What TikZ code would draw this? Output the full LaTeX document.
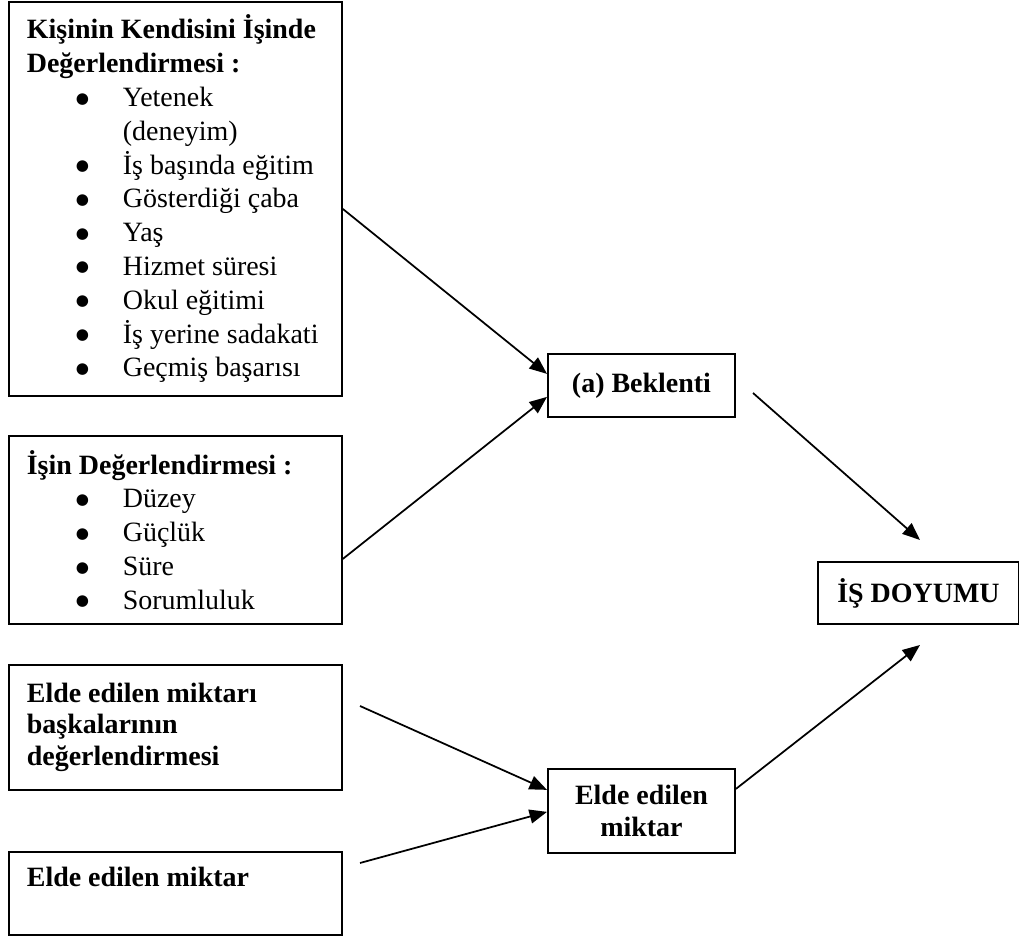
\documentclass[tikz,border=0pt]{standalone}
\usepackage{fontspec}
\setmainfont{Liberation Serif}
\newfontfamily\simge{DejaVu Sans}
\usetikzlibrary{arrows.meta,calc}

\newcommand{\itm}[1]{\hspace*{21pt}\makebox[20.2pt][l]{\raisebox{1.5pt}{\simge\fontsize{6.5}{7}\selectfont ●}}#1}

\begin{document}
\begin{tikzpicture}[x=0.4292pt,y=-0.4292pt,
  kutu/.style={draw,line width=0.8pt,anchor=north west,inner xsep=7.7pt,inner ysep=0pt,
    align=flush left,font=\fontsize{12}{14.5}\selectfont},
  orta/.style={draw,line width=0.8pt,anchor=north west,inner sep=0pt,
    align=center,font=\fontsize{12}{13.7}\selectfont\bfseries},
  ok/.style={-{Triangle[length=7.5pt,width=6pt]},line width=0.75pt}]

  \useasboundingbox (0,0) rectangle (1019,938);

  % left boxes
  \node[kutu,text width=127.5pt,minimum height=169.1pt] (kendi) at (8,1) {%
    \textbf{Kişinin Kendisini İşinde}\\
    \textbf{Değerlendirmesi :}\\
    \itm{Yetenek}\\
    \hspace*{41.2pt}(deneyim)\\
    \itm{İş başında eğitim}\\
    \itm{Gösterdiği çaba}\\
    \itm{Yaş}\\
    \itm{Hizmet süresi}\\
    \itm{Okul eğitimi}\\
    \itm{İş yerine sadakati}\\
    \itm{Geçmiş başarısı}};

  \node[kutu,text width=127.5pt,minimum height=80.7pt] (isin) at (8,435) {%
    \textbf{İşin Değerlendirmesi :}\\
    \itm{Düzey}\\
    \itm{Güçlük}\\
    \itm{Süre}\\
    \itm{Sorumluluk}};

  \node[kutu,text width=127.5pt,minimum height=53.6pt,
    font=\fontsize{12}{13.6}\selectfont\bfseries] (baska) at (8,664) {%
    Elde edilen miktarı\\
    başkalarının\\
    değerlendirmesi};

  \node[kutu,text width=127.5pt,minimum height=35.6pt,font=\fontsize{12}{14.5}\selectfont\bfseries]
    (elde) at (8,851) {Elde edilen miktar\\ \mbox{}};

  % middle and right boxes
  \node[orta,minimum width=80.3pt,minimum height=27pt] (beklenti) at (547,353) {(a) Beklenti};
  \node[orta,minimum width=80.3pt,minimum height=36pt] (miktar) at (547,768) {Elde edilen\\miktar};
  \node[orta,minimum width=86.3pt,minimum height=26.6pt] (doyum) at (817,561) {İŞ DOYUMU};

  % free ends
  \coordinate (b1) at (753,393);
  \coordinate (d1) at (920,540);
  \coordinate (d2) at (920,645);
  \coordinate (e1) at (360,706);
  \coordinate (e2) at (360,863);

  \draw[ok] ($(kendi.east)+(0,10)$) -- ($(beklenti.west)+(0,-11.5)$);
  \draw[ok] ($(isin.east)+(0,29)$) -- ($(beklenti.west)+(0,11.5)$);
  \draw[ok] (b1) -- (d1);
  \draw[ok] ($(miktar.east)+(0,-22)$) -- (d2);
  \draw[ok] (e1) -- ($(miktar.west)+(0,-21)$);
  \draw[ok] (e2) -- ($(miktar.west)+(0,1)$);

\end{tikzpicture}
\end{document}
